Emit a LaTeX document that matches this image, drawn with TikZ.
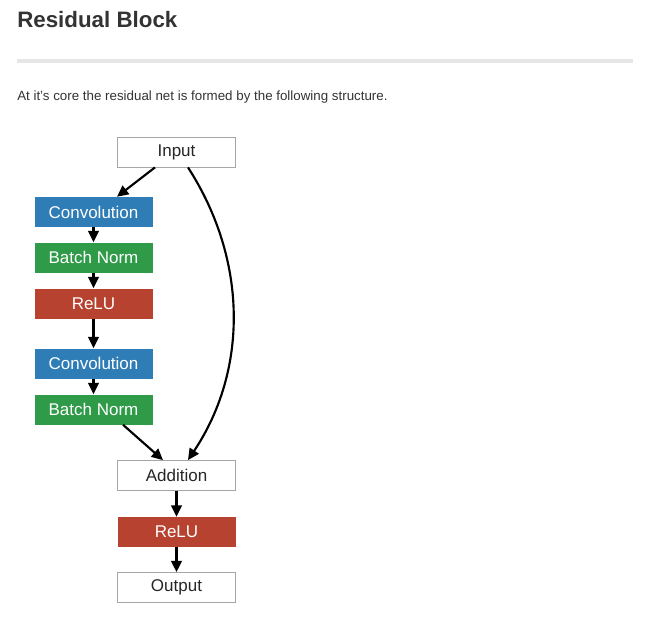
\documentclass[tikz,border=0pt]{standalone}
\usepackage{fontspec}
\setmainfont{Liberation Sans}
\usepackage{tikz}
\usetikzlibrary{arrows.meta}
\usetikzlibrary{calc}
\definecolor{convblue}{HTML}{2F7DB6}
\definecolor{normgreen}{HTML}{2F9A47}
\definecolor{relured}{HTML}{B7422F}
\definecolor{rulegray}{HTML}{E6E6E6}
\definecolor{inkgray}{HTML}{333333}

\begin{document}
\begin{tikzpicture}[x=0.75pt,y=-0.75pt,
        blk/.style={minimum width=88.5pt,minimum height=22.5pt,inner sep=0pt,font=\fontsize{12.75}{15}\selectfont},
        plain/.style={blk,draw=black!35,line width=0.6pt,fill=white,text=black!85},
        conv/.style={blk,fill=convblue,text=white},
        norm/.style={blk,fill=normgreen,text=white},
        relu/.style={blk,fill=relured,text=white},
        link/.style={line width=1.6pt,-{Triangle[length=8.5pt,width=8pt]}}]
                \useasboundingbox (0,0) rectangle (654,618);
                \node[anchor=base west,inner sep=0pt,text=inkgray,font=\fontsize{16.75}{20}\selectfont\bfseries] (title) at (17,27) {Residual Block};
                \fill[rulegray] (17,59) rectangle (633,63);
                \node[anchor=base west,inner sep=0pt,text=inkgray,font=\fontsize{10}{12}\selectfont] (intro) at (17,100) {At it's core the residual net is formed by the following structure.};

                \node[plain] (input) at (176.5,152) {Input};
                \node[conv] (conva) at (93.5,212) {Convolution};
                \node[norm] (bna) at (93.5,257.5) {Batch Norm};
                \node[relu] (relua) at (93.5,303.5) {ReLU};
                \node[conv] (convb) at (93.5,363.5) {Convolution};
                \node[norm] (bnb) at (93.5,409.5) {Batch Norm};
                \node[plain] (add) at (176.5,475.5) {Addition};
                \node[relu] (relub) at (176.5,532) {ReLU};
                \node[plain] (output) at (176.5,587.5) {Output};

                \foreach \a/\b in {conva/bna,bna/relua,relua/convb,convb/bnb,add/relub,relub/output}{
                    \draw[link] (\a) -- (\b);
                }
                \draw[link] ($(input.south)+(-21.5,0)$) -- ($(conva.north)+(23.5,0)$);
                \draw[link] ($(bnb.south)+(29.5,0)$) -- ($(add.north)+(-13.5,0)$);
                \draw[link] ($(input.south)+(11.5,0)$) .. controls +(60,93) and +(60,-90) .. ($(add.north)+(11.5,0)$);
            \end{tikzpicture}
\end{document}
